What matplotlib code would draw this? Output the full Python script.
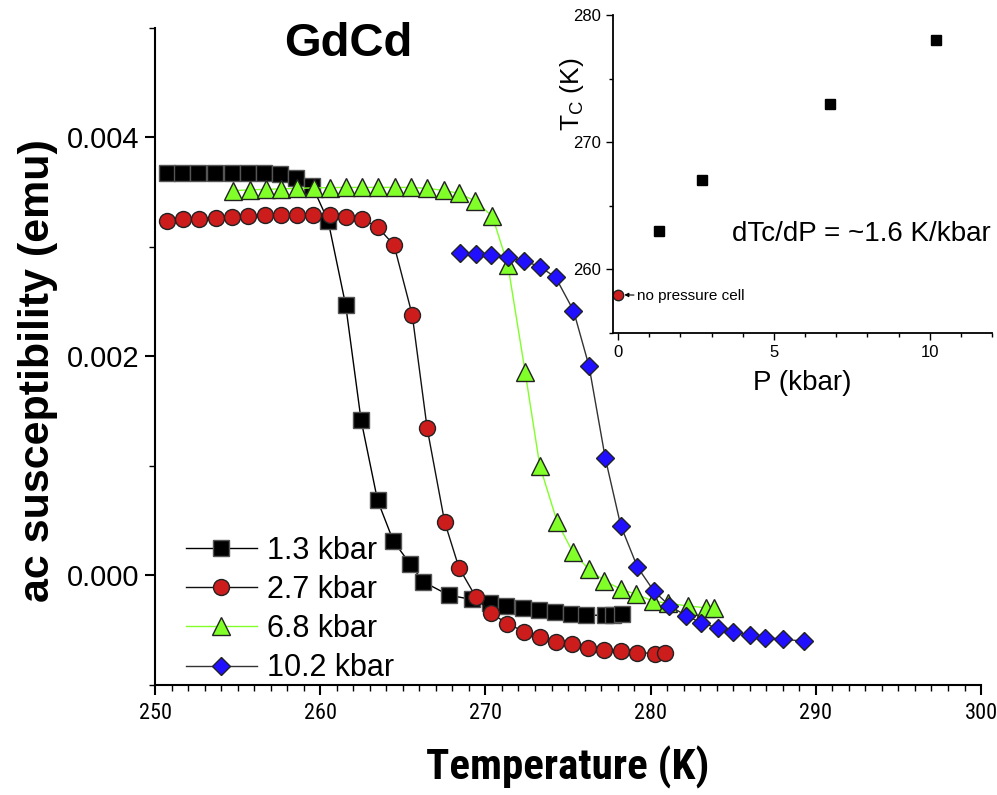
import numpy as np
import matplotlib
matplotlib.use("Agg")
import matplotlib.pyplot as plt
from matplotlib import font_manager as fm
from matplotlib.ticker import MultipleLocator, FormatStrFormatter

plt.rcParams['font.family'] = ['Liberation Sans', 'DejaVu Sans']

# look for a condensed sans face for the x axis texts
cond = [f for f in fm.fontManager.ttflist
        if ('Narrow' in f.name or 'Condensed' in f.name or f.stretch == 'condensed')
        and 'Serif' not in f.name and 'Mono' not in f.name and f.style == 'normal']
pref = ['Liberation Sans Narrow', 'Arial Narrow', 'Roboto Condensed', 'Open Sans Condensed']
cond.sort(key=lambda f: pref.index(f.name) if f.name in pref else len(pref))


def pick(bold):
    for f in cond:
        w = f.weight if isinstance(f.weight, int) else (700 if f.weight == 'bold' else 400)
        if (w >= 600) == bold:
            return fm.FontProperties(fname=f.fname)
    return None


narrow_reg = pick(False)
narrow_bold = pick(True)

# ac susceptibility curves, values in emu (x1e-3)
T_13 = [250.70, 251.63, 252.63, 253.63, 254.63, 255.63, 256.59, 257.59, 258.54, 259.52,
        260.48, 261.54, 262.47, 263.47, 264.43, 265.43, 266.23, 267.77, 269.16, 270.26,
        271.26, 272.26, 273.25, 274.21, 275.15, 276.09, 277.22, 277.72, 278.26]
chi_13 = [3.678, 3.678, 3.678, 3.678, 3.678, 3.678, 3.672, 3.663, 3.633, 3.556,
          3.237, 2.469, 1.421, 0.686, 0.313, 0.109, -0.057, -0.179, -0.219, -0.249,
          -0.280, -0.301, -0.319, -0.334, -0.349, -0.362, -0.364, -0.360, -0.355]

T_27 = [250.74, 251.69, 252.69, 253.69, 254.68, 255.65, 256.65, 257.65, 258.62, 259.58,
        260.58, 261.57, 262.53, 263.47, 264.47, 265.57, 266.47, 267.53, 268.40, 269.42,
        270.36, 271.32, 272.35, 273.31, 274.25, 275.25, 276.19, 277.19, 278.19, 279.20,
        280.28, 280.88]
chi_27 = [3.237, 3.253, 3.259, 3.265, 3.274, 3.280, 3.289, 3.289, 3.289, 3.289,
          3.289, 3.274, 3.253, 3.183, 3.016, 2.378, 1.346, 0.489, 0.070, -0.197,
          -0.346, -0.440, -0.513, -0.562, -0.604, -0.629, -0.659, -0.677, -0.692, -0.704,
          -0.713, -0.704]

T_68 = [254.73, 255.73, 256.69, 257.65, 258.62, 259.62, 260.58, 261.57, 262.51, 263.51,
        264.51, 265.51, 266.47, 267.47, 268.40, 269.36, 270.42, 271.36, 272.40, 273.29,
        274.35, 275.29, 276.25, 277.19, 278.19, 279.14, 280.14, 281.08, 282.25, 283.34,
        283.83]
chi_68 = [3.514, 3.522, 3.526, 3.531, 3.535, 3.540, 3.542, 3.544, 3.544, 3.544,
          3.544, 3.544, 3.535, 3.517, 3.490, 3.421, 3.280, 2.834, 1.862, 1.002,
          0.486, 0.212, 0.059, -0.048, -0.125, -0.173, -0.234, -0.255, -0.278, -0.295,
          -0.296]

T_102 = [268.43, 269.42, 270.36, 271.36, 272.35, 273.32, 274.25, 275.33, 276.27, 277.25,
         278.19, 279.20, 280.19, 281.14, 282.14, 283.05, 284.07, 285.01, 286.03, 286.95,
         288.02, 289.26]
chi_102 = [2.946, 2.934, 2.925, 2.904, 2.873, 2.818, 2.722, 2.419, 1.913, 1.075,
           0.456, 0.077, -0.141, -0.276, -0.367, -0.431, -0.481, -0.517, -0.544, -0.567,
           -0.583, -0.599]

labels = ["1.3 kbar", "2.7 kbar", "6.8 kbar", "10.2 kbar"]

# inset: Tc vs pressure
P = [1.3, 2.7, 6.8, 10.2]
Tc = [263, 267, 273, 278]
P0, Tc0 = [0], [258]

fig = plt.figure(figsize=(9.97, 7.95), dpi=100)
ax = fig.add_axes([0.1555, 0.1384, 0.8285, 0.8264])

series = [
    (T_13, chi_13, 's', 'black', '#555555', 'black', 11.5),
    (T_27, chi_27, 'o', '#cc1c1c', '#222222', '#111111', 11.5),
    (T_68, chi_68, '^', '#80ff28', '#222222', '#80ff28', 12.5),
    (T_102, chi_102, 'D', '#2010ff', '#222222', '#333333', 9.5),
]
for (t, c, m, fc, ec, lc, ms), lab in zip(series, labels):
    ax.plot(t, np.array(c) * 1e-3, color=lc, lw=1, marker=m, ms=ms,
            mfc=fc, mec=ec, mew=1, label=lab)

ax.set_xlim(250, 300)
ax.set_ylim(-0.001, 0.005)
ax.xaxis.set_major_locator(MultipleLocator(10))
ax.xaxis.set_minor_locator(MultipleLocator(1))
ax.yaxis.set_major_locator(MultipleLocator(0.002))
ax.yaxis.set_minor_locator(MultipleLocator(0.001))
ax.yaxis.set_major_formatter(FormatStrFormatter('%.3f'))
for s in ['top', 'right']:
    ax.spines[s].set_visible(False)
for s in ['left', 'bottom']:
    ax.spines[s].set_linewidth(1.5)
ax.tick_params(which='major', direction='out', length=7, width=1.5)
ax.tick_params(which='minor', direction='out', length=4, width=1)
ax.tick_params(axis='y', labelsize=21, pad=4)
ax.tick_params(axis='x', labelsize=16, pad=6)
if narrow_reg is not None:
    for lbl in ax.get_xticklabels():
        lbl.set_fontproperties(narrow_reg)
        lbl.set_fontsize(16)

if narrow_bold is not None:
    ax.set_xlabel("Temperature (K)", fontproperties=narrow_bold, fontsize=31, labelpad=16)
else:
    ax.set_xlabel("Temperature (K)", fontsize=25, fontweight='bold', labelpad=16)
ax.set_ylabel("ac susceptibility (emu)", fontsize=31, fontweight='bold')
ax.yaxis.set_label_coords(-0.118, 0.479)

fig.text(0.349, 0.945, "GdCd", fontsize=34, fontweight='bold', ha='center', va='center')

ax.legend(loc='lower left', bbox_to_anchor=(0.012, -0.03), frameon=False, fontsize=22,
          handlelength=2.3, handletextpad=0.35, labelspacing=0.3, borderpad=0.2)

# inset
ins = fig.add_axes([0.6149, 0.5811, 0.3801, 0.4000])
ins.plot(P, Tc, 's', color='black', ms=7.7)
ins.plot(P0, Tc0, 'o', mfc='#cc1c1c', mec='#222222', ms=7.5)
ins.set_xlim(-0.16, 12.0)
ins.set_ylim(255, 280)
ins.xaxis.set_major_locator(MultipleLocator(5))
ins.xaxis.set_minor_locator(MultipleLocator(1))
ins.yaxis.set_major_locator(MultipleLocator(10))
ins.yaxis.set_minor_locator(MultipleLocator(5))
for s in ['top', 'right']:
    ins.spines[s].set_visible(False)
for s in ['left', 'bottom']:
    ins.spines[s].set_linewidth(1.3)
ins.tick_params(which='major', direction='out', length=5, width=1, labelsize=12)
ins.tick_params(which='minor', direction='out', length=3, width=1)
ins.set_xlabel("P (kbar)", fontsize=20, labelpad=7)
ins.set_ylabel(r"T$_\mathregular{C}$ (K)", fontsize=19)
ins.yaxis.set_label_coords(-0.071, 0.75)
ins.text(3.65, 262.8, "dTc/dP = ~1.6 K/kbar", fontsize=20, va='center', ha='left')
ins.annotate("no pressure cell", xy=(0.2, 258), xytext=(0.6, 257.9), fontsize=11,
             va='center', ha='left',
             arrowprops=dict(arrowstyle='-|>', color='black', lw=0.8, mutation_scale=6,
                             shrinkA=0, shrinkB=0))

fig.savefig("out.png", dpi=100)
